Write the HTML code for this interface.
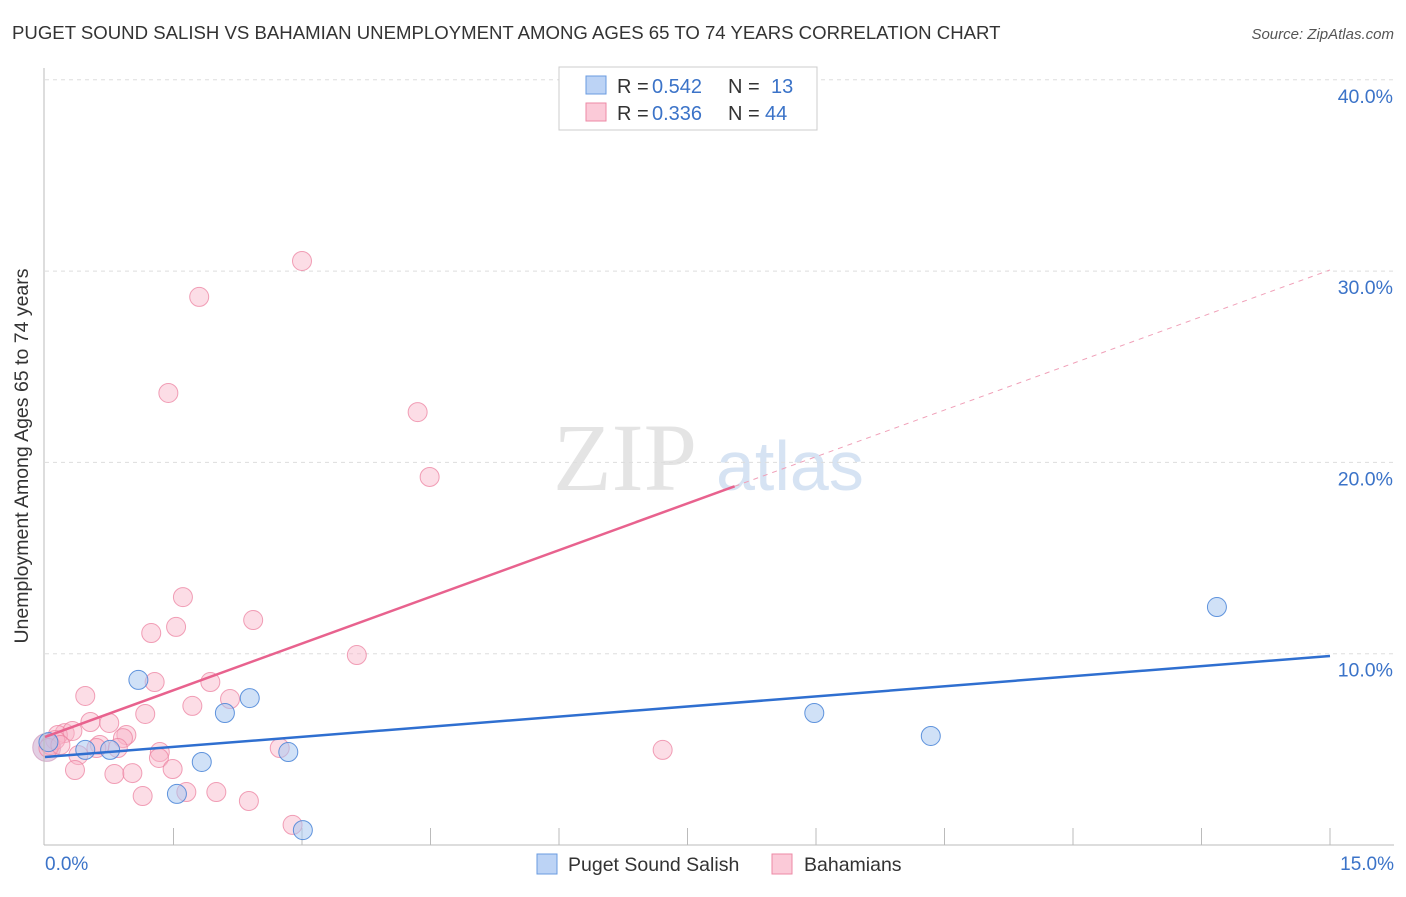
<!DOCTYPE html>
<html><head><meta charset="utf-8"><style>
body{margin:0;background:#fff;font-family:"Liberation Sans",sans-serif}
</style></head><body>
<svg id="c" width="1406" height="892" xmlns="http://www.w3.org/2000/svg">
<text x="12" y="39" font-size="18.6" fill="#333">PUGET SOUND SALISH VS BAHAMIAN UNEMPLOYMENT AMONG AGES 65 TO 74 YEARS CORRELATION CHART</text>
<text x="1394" y="39" font-size="15" fill="#555" font-style="italic" text-anchor="end">Source: ZipAtlas.com</text>
<g>
<text x="553" y="490" font-size="96" fill="#e4e4e4" font-family="Liberation Serif,serif">ZIP</text>
<text x="716" y="490" font-size="70" fill="#d6e3f3">atlas</text>
</g>
<g id="grid"></g><g id="pts"></g><g id="lines"></g>
<line x1="44" y1="68" x2="44" y2="845" stroke="#bbb"/>
<line x1="44" y1="845" x2="1394" y2="845" stroke="#bbb"/>
<text x="28" y="456" font-size="19.5" fill="#333" text-anchor="middle" transform="rotate(-90 28 456)">Unemployment Among Ages 65 to 74 years</text>
<text x="45" y="870" font-size="19" fill="#3b73c8">0.0%</text>
<text x="1394" y="870" font-size="19" fill="#3b73c8" text-anchor="end">15.0%</text>
<g>
<rect x="559" y="67" width="258" height="63" fill="#fff" stroke="#ccc"/>
<rect x="586" y="76" width="20" height="18" fill="#bcd3f5" stroke="#6a9be0"/>
<rect x="586" y="103" width="20" height="18" fill="#fbcad8" stroke="#ec8aa6"/>
<text x="617" y="93" font-size="20" fill="#333">R =</text>
<text x="652" y="93" font-size="20" fill="#3b73c8">0.542</text>
<text x="728" y="93" font-size="20" fill="#333">N =</text>
<text x="771" y="93" font-size="20" fill="#3b73c8">13</text>
<text x="617" y="120" font-size="20" fill="#333">R =</text>
<text x="652" y="120" font-size="20" fill="#3b73c8">0.336</text>
<text x="728" y="120" font-size="20" fill="#333">N =</text>
<text x="765" y="120" font-size="20" fill="#3b73c8">44</text>
</g>
<g>
<rect x="537" y="854" width="20" height="20" fill="#bcd3f5" stroke="#6a9be0"/>
<text x="568" y="871" font-size="19.5" fill="#333">Puget Sound Salish</text>
<rect x="772" y="854" width="20" height="20" fill="#fbcad8" stroke="#ec8aa6"/>
<text x="804" y="871" font-size="19.5" fill="#333">Bahamians</text>
</g>
</svg>
<script>
const yTicks=[10,20,30,40];
const yTickLabels=["10.0%","20.0%","30.0%","40.0%"];
const xTicks=[1.5,3,4.5,6,7.5,9,10.5,12,13.5,15];
const pinkX=[3.00,1.80,1.44,4.35,4.49,1.61,2.43,1.53,1.24,3.64,1.28,1.93,0.47,1.72,2.16,1.17,0.53,0.75,0.23,0.15,0.95,0.91,0.64,2.74,0.85,0.06,1.34,0.39,1.33,7.21,1.49,0.35,0.81,1.02,1.14,1.65,2.00,2.38,2.89,0.12,0.04,0.60,0.32,0.18];
const pinkY=[30.53,28.65,23.63,22.63,19.24,12.96,11.76,11.40,11.08,9.93,8.52,8.52,7.79,7.27,7.63,6.85,6.43,6.38,5.85,5.75,5.75,5.59,5.23,5.07,5.07,5.23,4.86,4.70,4.55,4.97,3.97,3.92,3.71,3.76,2.56,2.77,2.77,2.30,1.05,5.49,5.07,5.07,5.96,5.23];
const blueX=[13.68,1.09,2.39,2.10,8.98,10.34,2.84,0.76,1.83,1.54,3.01,0.04,0.47];
const blueY=[12.44,8.63,7.68,6.90,6.90,5.70,4.86,4.97,4.34,2.67,0.78,5.38,4.97];
const blueLine=[4.6,9.88];
const pinkLine=[5.65,30.06];
const pinkSolidEnd=8.05;
const X=v=>45+v/15*1285, Y=v=>845-v*19.13;
const NS="http://www.w3.org/2000/svg";
function mk(t,a,p){const e=document.createElementNS(NS,t);for(const k in a)e.setAttribute(k,a[k]);p.appendChild(e);return e;}
const grid=document.getElementById('grid');
yTicks.forEach((t,i)=>{
 const l=mk('line',{x1:45,x2:1394,y1:Y(t),y2:Y(t),stroke:'#ddd','stroke-dasharray':'4,4'},grid);
 
 
 const tx=mk('text',{x:1393,y:Y(t)+23,'font-size':19.5,fill:'#3b73c8','text-anchor':'end'},grid);
 tx.textContent=yTickLabels[i];
 
 
});
xTicks.forEach(t=>{
 const l=mk('line',{x1:X(t),x2:X(t),y1:828,y2:845,stroke:'#bbb'},grid);
 
 
});
const pts=document.getElementById('pts');
const big=mk('circle',{cx:X(0.02),cy:Y(5.1),r:14,fill:'rgba(200,160,200,0.5)',stroke:'rgba(200,140,180,0.6)'},pts);


pinkX.forEach((x,i)=>{
 const c=mk('circle',{cx:X(x),cy:Y(pinkY[i]),r:9.5,fill:'rgba(248,180,200,0.45)',stroke:'rgba(236,130,160,0.75)'},pts);
 
 
});
blueX.forEach((x,i)=>{
 const c=mk('circle',{cx:X(x),cy:Y(blueY[i]),r:9.5,fill:'rgba(170,200,240,0.55)',stroke:'rgba(70,130,215,0.85)'},pts);
 
 
});
const ln=document.getElementById('lines');
const pl=x=>pinkLine[0]+(pinkLine[1]-pinkLine[0])*x/15;
let a=mk('line',{x1:X(pinkSolidEnd),y1:Y(pl(pinkSolidEnd)),x2:X(15),y2:Y(pinkLine[1]),stroke:'#f0a0b8','stroke-dasharray':'5,5','stroke-width':1},ln);


a=mk('line',{x1:X(0),y1:Y(pinkLine[0]),x2:X(pinkSolidEnd),y2:Y(pl(pinkSolidEnd)),stroke:'#e8628e','stroke-width':2.5},ln);


a=mk('line',{x1:X(0),y1:Y(blueLine[0]),x2:X(15),y2:Y(blueLine[1]),stroke:'#2f6fd0','stroke-width':2.5},ln);


</script>
</body></html>
